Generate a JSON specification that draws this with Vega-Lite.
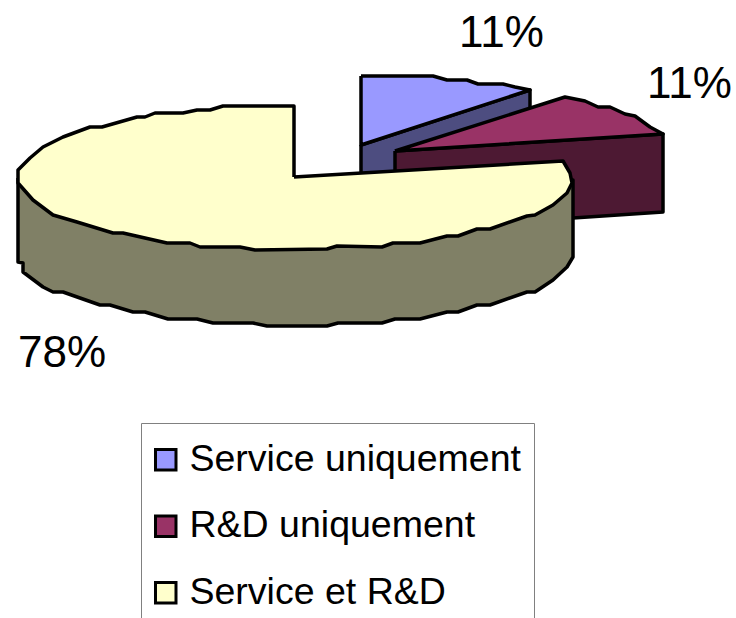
{
"$schema":"https://vega.github.io/schema/vega-lite/v6.json",
"width":736,"height":618,"padding":0,"autosize":{"type":"none"},
"background":"white",
"config":{"view":{"stroke":null},"font":"Liberation Sans"},
"datasets":{
"sides":[
{"segment":"Service uniquement","i":0,"x":361,"y":145},{"segment":"Service uniquement","i":1,"x":530,"y":90},{"segment":"Service uniquement","i":2,"x":530,"y":168},{"segment":"Service uniquement","i":3,"x":361,"y":175},{"segment":"Service uniquement","i":4,"x":361,"y":145},
{"segment":"R&D uniquement","i":0,"x":395,"y":151},{"segment":"R&D uniquement","i":1,"x":663,"y":134},{"segment":"R&D uniquement","i":2,"x":663,"y":212},{"segment":"R&D uniquement","i":3,"x":573,"y":218},{"segment":"R&D uniquement","i":4,"x":395,"y":228},{"segment":"R&D uniquement","i":5,"x":395,"y":151},
{"segment":"Service et R&D","i":0,"x":18,"y":178},{"segment":"Service et R&D","i":1,"x":18,"y":262},{"segment":"Service et R&D","i":2,"x":23,"y":263},{"segment":"Service et R&D","i":3,"x":23,"y":272},{"segment":"Service et R&D","i":4,"x":43,"y":287},{"segment":"Service et R&D","i":5,"x":53,"y":292},{"segment":"Service et R&D","i":6,"x":63,"y":292},{"segment":"Service et R&D","i":7,"x":80,"y":298},{"segment":"Service et R&D","i":8,"x":100,"y":305},{"segment":"Service et R&D","i":9,"x":110,"y":305},{"segment":"Service et R&D","i":10,"x":133,"y":312},{"segment":"Service et R&D","i":11,"x":145,"y":312},{"segment":"Service et R&D","i":12,"x":168,"y":319},{"segment":"Service et R&D","i":13,"x":197,"y":319},{"segment":"Service et R&D","i":14,"x":213,"y":323},{"segment":"Service et R&D","i":15,"x":253,"y":323},{"segment":"Service et R&D","i":16,"x":267,"y":326},{"segment":"Service et R&D","i":17,"x":327,"y":326},{"segment":"Service et R&D","i":18,"x":338,"y":323},{"segment":"Service et R&D","i":19,"x":382,"y":323},{"segment":"Service et R&D","i":20,"x":395,"y":319},{"segment":"Service et R&D","i":21,"x":420,"y":319},{"segment":"Service et R&D","i":22,"x":447,"y":312},{"segment":"Service et R&D","i":23,"x":458,"y":312},{"segment":"Service et R&D","i":24,"x":477,"y":305},{"segment":"Service et R&D","i":25,"x":490,"y":305},{"segment":"Service et R&D","i":26,"x":527,"y":292},{"segment":"Service et R&D","i":27,"x":535,"y":292},{"segment":"Service et R&D","i":28,"x":553,"y":280},{"segment":"Service et R&D","i":29,"x":567,"y":267},{"segment":"Service et R&D","i":30,"x":573,"y":257},{"segment":"Service et R&D","i":31,"x":573,"y":180},{"segment":"Service et R&D","i":32,"x":300,"y":215},{"segment":"Service et R&D","i":33,"x":18,"y":178}
],
"tops":[
{"segment":"Service uniquement","i":0,"x":361,"y":76},{"segment":"Service uniquement","i":1,"x":433,"y":76},{"segment":"Service uniquement","i":2,"x":447,"y":80},{"segment":"Service uniquement","i":3,"x":467,"y":80},{"segment":"Service uniquement","i":4,"x":478,"y":84},{"segment":"Service uniquement","i":5,"x":503,"y":84},{"segment":"Service uniquement","i":6,"x":515,"y":87},{"segment":"Service uniquement","i":7,"x":530,"y":90},{"segment":"Service uniquement","i":8,"x":361,"y":145},{"segment":"Service uniquement","i":9,"x":361,"y":76},
{"segment":"R&D uniquement","i":0,"x":395,"y":151},{"segment":"R&D uniquement","i":1,"x":565,"y":97},{"segment":"R&D uniquement","i":2,"x":585,"y":101},{"segment":"R&D uniquement","i":3,"x":598,"y":107},{"segment":"R&D uniquement","i":4,"x":610,"y":107},{"segment":"R&D uniquement","i":5,"x":625,"y":114},{"segment":"R&D uniquement","i":6,"x":635,"y":116},{"segment":"R&D uniquement","i":7,"x":650,"y":127},{"segment":"R&D uniquement","i":8,"x":663,"y":134},{"segment":"R&D uniquement","i":9,"x":395,"y":151},
{"segment":"Service et R&D","i":0,"x":294,"y":177},{"segment":"Service et R&D","i":1,"x":294,"y":106},{"segment":"Service et R&D","i":2,"x":223,"y":106},{"segment":"Service et R&D","i":3,"x":210,"y":110},{"segment":"Service et R&D","i":4,"x":197,"y":110},{"segment":"Service et R&D","i":5,"x":183,"y":113},{"segment":"Service et R&D","i":6,"x":155,"y":113},{"segment":"Service et R&D","i":7,"x":145,"y":117},{"segment":"Service et R&D","i":8,"x":137,"y":117},{"segment":"Service et R&D","i":9,"x":102,"y":127},{"segment":"Service et R&D","i":10,"x":90,"y":127},{"segment":"Service et R&D","i":11,"x":63,"y":137},{"segment":"Service et R&D","i":12,"x":43,"y":147},{"segment":"Service et R&D","i":13,"x":30,"y":158},{"segment":"Service et R&D","i":14,"x":18,"y":170},{"segment":"Service et R&D","i":15,"x":18,"y":183},{"segment":"Service et R&D","i":16,"x":33,"y":200},{"segment":"Service et R&D","i":17,"x":53,"y":215},{"segment":"Service et R&D","i":18,"x":77,"y":222},{"segment":"Service et R&D","i":19,"x":113,"y":233},{"segment":"Service et R&D","i":20,"x":123,"y":233},{"segment":"Service et R&D","i":21,"x":167,"y":243},{"segment":"Service et R&D","i":22,"x":190,"y":243},{"segment":"Service et R&D","i":23,"x":200,"y":247},{"segment":"Service et R&D","i":24,"x":240,"y":247},{"segment":"Service et R&D","i":25,"x":255,"y":250},{"segment":"Service et R&D","i":26,"x":327,"y":249},{"segment":"Service et R&D","i":27,"x":337,"y":246},{"segment":"Service et R&D","i":28,"x":382,"y":247},{"segment":"Service et R&D","i":29,"x":393,"y":243},{"segment":"Service et R&D","i":30,"x":420,"y":243},{"segment":"Service et R&D","i":31,"x":447,"y":236},{"segment":"Service et R&D","i":32,"x":458,"y":236},{"segment":"Service et R&D","i":33,"x":477,"y":229},{"segment":"Service et R&D","i":34,"x":490,"y":229},{"segment":"Service et R&D","i":35,"x":527,"y":216},{"segment":"Service et R&D","i":36,"x":535,"y":215},{"segment":"Service et R&D","i":37,"x":553,"y":205},{"segment":"Service et R&D","i":38,"x":567,"y":193},{"segment":"Service et R&D","i":39,"x":572,"y":183},{"segment":"Service et R&D","i":40,"x":570,"y":173},{"segment":"Service et R&D","i":41,"x":563,"y":161},{"segment":"Service et R&D","i":42,"x":294,"y":177}
],
"labels":[
{"label":"11%","x":459,"y":47},
{"label":"11%","x":647,"y":98},
{"label":"78%","x":18,"y":367}
]},
"layer":[
{"data":{"name":"sides"},
 "mark":{"type":"line","stroke":"black","strokeWidth":3.5,"strokeJoin":"round"},
 "encoding":{
  "x":{"field":"x","type":"quantitative","scale":{"domain":[0,736]},"axis":null},
  "y":{"field":"y","type":"quantitative","scale":{"domain":[618,0]},"axis":null},
  "order":{"field":"i","type":"ordinal"},
  "fill":{"field":"segment","type":"nominal","legend":null,
    "scale":{"domain":["Service uniquement","R&D uniquement","Service et R&D"],"range":["#4D4D80","#4D1933","#808066"]}}
 }},
{"data":{"name":"tops"},
 "mark":{"type":"line","stroke":"black","strokeWidth":3.5,"strokeJoin":"round"},
 "encoding":{
  "x":{"field":"x","type":"quantitative","scale":{"domain":[0,736]},"axis":null},
  "y":{"field":"y","type":"quantitative","scale":{"domain":[618,0]},"axis":null},
  "order":{"field":"i","type":"ordinal"},
  "fill":{"field":"segment","type":"nominal",
    "scale":{"domain":["Service uniquement","R&D uniquement","Service et R&D"],"range":["#9999FF","#993366","#FFFFCC"]},
    "legend":{"orient":"none","legendX":141,"legendY":423,"title":" ","titleFontSize":5,"titlePadding":0,"padding":13,"strokeColor":"#808080","fillColor":"white","symbolType":"square","symbolSize":420,"symbolOffset":-7,"symbolStrokeColor":"black","symbolStrokeWidth":3,"labelFont":"Liberation Sans","labelFontSize":37.5,"labelColor":"black","labelOffset":5,"rowPadding":27.5,"labelLimit":500}}
 }},
{"data":{"name":"labels"},
 "mark":{"type":"text","align":"left","baseline":"alphabetic","font":"Liberation Sans","fontSize":44,"color":"black"},
 "encoding":{
  "x":{"field":"x","type":"quantitative","scale":{"domain":[0,736]},"axis":null},
  "y":{"field":"y","type":"quantitative","scale":{"domain":[618,0]},"axis":null},
  "text":{"field":"label","type":"nominal"}
 }}
],
"resolve":{"scale":{"fill":"independent"}}
}
